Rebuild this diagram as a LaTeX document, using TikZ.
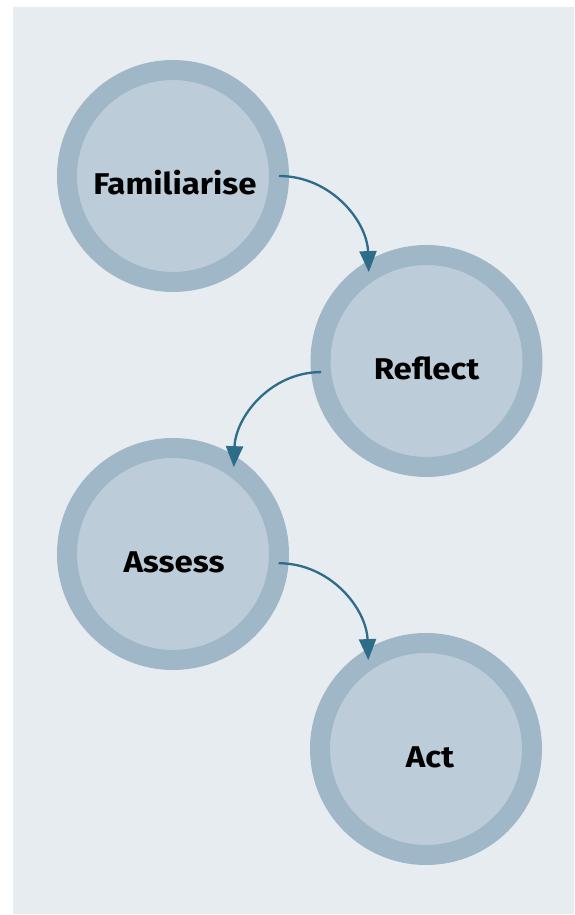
\documentclass[tikz,border=0pt]{standalone}
\usepackage{fontspec}
\setmainfont{Fira Sans}
\newfontfamily\stagefont{Fira Sans}[FakeStretch=1.1]
\usetikzlibrary{arrows.meta,calc}
\definecolor{bgc}{HTML}{E6ECF0}
\definecolor{ringc}{HTML}{9FB7C6}
\definecolor{innerc}{HTML}{BCCDD9}
\definecolor{arrowc}{HTML}{2D6D89}
\tikzset{
  stage/.style={circle, draw=ringc, line width=20pt, fill=innerc,
    minimum size=212pt, inner sep=0pt, outer sep=0pt,
    font=\stagefont\fontsize{30}{36}\selectfont\bfseries, text=black},
  conn/.style={draw=arrowc, line width=2.3pt,
    -{Triangle[width=17pt,length=21pt]}},
}
\newcommand{\stagetext}[2][0pt]{\hspace*{#1}\raisebox{-19pt}[0pt][0pt]{#2}}
\begin{document}
\begin{tikzpicture}[x=1pt,y=1pt]
\useasboundingbox (0,0) rectangle (574,915);
\fill[bgc] (12.5,1) rectangle (574,908);
\node[stage] (F)   at (173,739)   {\stagetext[4pt]{Familiarise}};
\node[stage] (R)   at (426.5,554) {\stagetext{Reflect}};
\node[stage] (As)  at (173,361)   {\stagetext[2pt]{Assess}};
\node[stage] (Act) at (426,166)   {\stagetext[8pt]{Act}};
\draw[conn] (F.0) to[out=0,in=92] (R.123.5);
\draw[conn] (R.186) to[out=180,in=88] (As.55);
\draw[conn] (As.-5.7) to[out=0,in=92] (Act.123.7);
\end{tikzpicture}
\end{document}
